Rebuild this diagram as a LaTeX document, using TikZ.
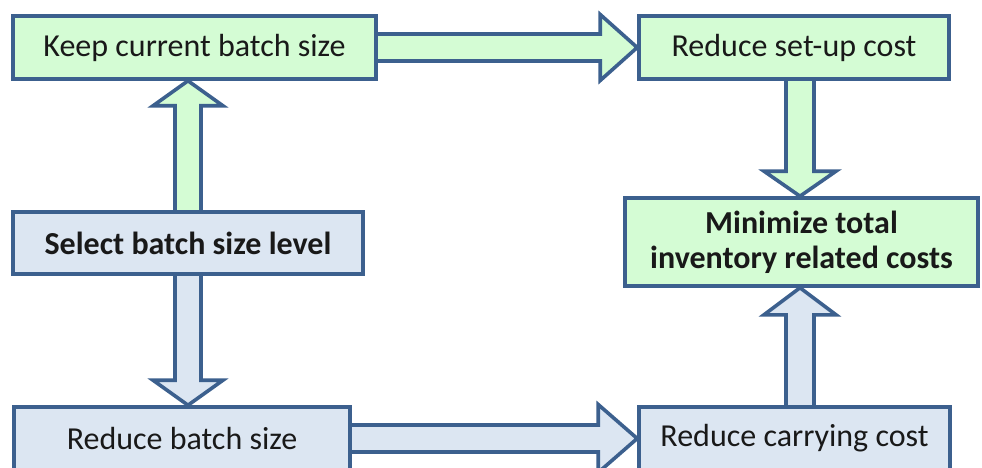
\documentclass[tikz,border=0pt]{standalone}
\usepackage{fontspec}
\setmainfont{Carlito}
\usetikzlibrary{calc,backgrounds}
\definecolor{edgeblue}{RGB}{60,96,142}
\definecolor{mint}{RGB}{212,252,212}
\definecolor{paleblue}{RGB}{220,230,242}
\tikzset{
  box/.style={draw=edgeblue, line width=3.6pt, rectangle, inner sep=0pt,
    font=\fontsize{32}{36}\selectfont, align=center, text=black!90},
  greenbox/.style={box, fill=mint},
  bluebox/.style={box, fill=paleblue},
  fatarrow/.style={draw=edgeblue, line width=3.6pt, line join=miter, miter limit=10},
  greenarrow/.style={fatarrow, fill=mint},
  bluearrow/.style={fatarrow, fill=paleblue}
}
\begin{document}
\begin{tikzpicture}[x=1pt,y=-1pt]
\useasboundingbox (0,0) rectangle (982,468);
\clip (0,0) rectangle (982,468);

% boxes
\node[greenbox, minimum width=363pt, minimum height=63pt] (keep) at (194.5,47.5) {Keep current batch size};
\node[greenbox, minimum width=310pt, minimum height=63pt] (setup) at (794,47.5) {Reduce set-up cost};
\node[greenbox, minimum width=353pt, minimum height=88pt, font=\fontsize{32}{35}\selectfont\bfseries] (minimize) at (801.5,242) {Minimize total\\inventory related costs};
\node[bluebox, minimum width=350pt, minimum height=62pt, font=\fontsize{32}{36}\selectfont\bfseries] (select) at (188,243) {Select batch size level};
\node[bluebox, minimum width=336pt, minimum height=63pt] (batch) at (182,438.5) {Reduce batch size};
\node[bluebox, minimum width=311pt, minimum height=63pt] (carry) at (794.5,438.5) {Reduce carrying cost};

% block arrows, drawn behind the boxes
\begin{scope}[on background layer]
  % keep -> set-up (horizontal)
  \path[greenarrow]
    ($(keep.east)+(0,13.5)$) -- ($(setup.west)+(-37,13.5)$) -- ($(setup.west)+(-37,33)$)
    -- (setup.west)
    -- ($(setup.west)+(-37,-33)$) -- ($(setup.west)+(-37,-13.5)$) -- ($(keep.east)+(0,-13.5)$);
  % select -> keep (up)
  \coordinate (k1) at (select.north |- keep.south);
  \path[greenarrow]
    ($(select.north)+(-13,0)$) -- ($(k1)+(-13,25)$) -- ($(k1)+(-35,25)$)
    -- (k1)
    -- ($(k1)+(35,25)$) -- ($(k1)+(13,25)$) -- ($(select.north)+(13,0)$);
  % set-up -> minimize (down)
  \coordinate (m1) at (minimize.north -| 800,0);
  \coordinate (s1) at (setup.south -| m1);
  \path[greenarrow]
    ($(s1)+(-14,0)$) -- ($(m1)+(-14,-25)$) -- ($(m1)+(-36,-25)$)
    -- (m1)
    -- ($(m1)+(36,-25)$) -- ($(m1)+(14,-25)$) -- ($(s1)+(14,0)$);
  % select -> reduce batch (down)
  \coordinate (b1) at (select.south |- batch.north);
  \path[bluearrow]
    ($(select.south)+(-13,0)$) -- ($(b1)+(-13,-25)$) -- ($(b1)+(-35,-25)$)
    -- (b1)
    -- ($(b1)+(35,-25)$) -- ($(b1)+(13,-25)$) -- ($(select.south)+(13,0)$);
  % reduce batch -> carrying (horizontal)
  \path[bluearrow]
    ($(batch.east)+(0,13.5)$) -- ($(carry.west)+(-39,13.5)$) -- ($(carry.west)+(-39,34)$)
    -- (carry.west)
    -- ($(carry.west)+(-39,-34)$) -- ($(carry.west)+(-39,-13.5)$) -- ($(batch.east)+(0,-13.5)$);
  % carrying -> minimize (up)
  \coordinate (m2) at (minimize.south -| 800,0);
  \coordinate (c1) at (carry.north -| m2);
  \path[bluearrow]
    ($(c1)+(-14,0)$) -- ($(m2)+(-14,27)$) -- ($(m2)+(-36,27)$)
    -- (m2)
    -- ($(m2)+(36,27)$) -- ($(m2)+(14,27)$) -- ($(c1)+(14,0)$);
\end{scope}
\end{tikzpicture}
\end{document}
